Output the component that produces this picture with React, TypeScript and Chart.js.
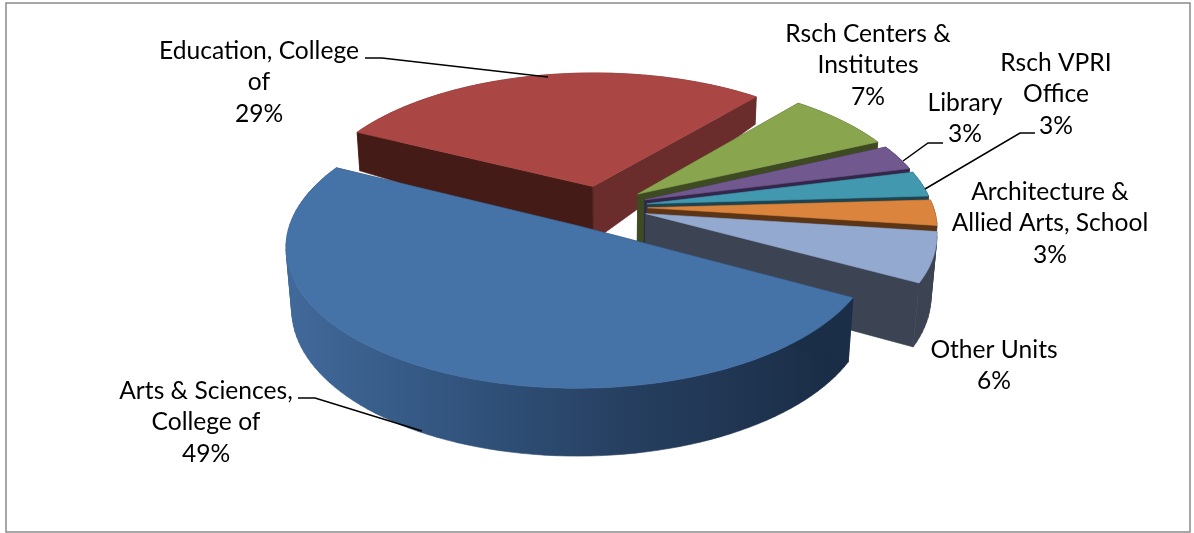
import React, { useEffect, useRef } from "react";
import { Chart, registerables } from "chart.js";

Chart.register(...registerables);

const categories = [
  "Arts & Sciences, College of",
  "Education, College of",
  "Rsch Centers & Institutes",
  "Library",
  "Rsch VPRI Office",
  "Architecture & Allied Arts, School",
  "Other Units",
];
const shares = [49.45, 28.7, 7, 3, 3, 3, 5.85];
const topColors = ["#4572A7", "#AA4643", "#89A54E", "#71588F", "#4198AF", "#DB843D", "#93A9CF"];
const startWallColors = ["#1b2e47", "#451b18", "#3d4a22", "#33264a", "#1d4450", "#5c3517", "#3c4353"];
const endWallColors = ["#1b2e47", "#6b2c2c", "#3d4a22", "#33264a", "#1d4450", "#5c3517", "#3c4353"];
const labelLines = [
  ["Arts & Sciences,", "College of"],
  ["Education, College", "of"],
  ["Rsch Centers &", "Institutes"],
  ["Library"],
  ["Rsch VPRI", "Office"],
  ["Architecture &", "Allied Arts, School"],
  ["Other Units"],
];
// label anchor: centre x, middle y of first line
const labelAnchors = [
  [206, 391],
  [259, 51],
  [868, 34],
  [965, 103],
  [1056, 63],
  [1050, 192],
  [994, 350],
];
const leaders: number[][][] = [
  [[298, 398], [315, 398], [422, 431]],
  [[365, 58], [382, 58], [548, 77]],
  [],
  [[943, 143], [928, 143], [903, 161]],
  [[1035, 133], [1020, 133], [925, 189]],
  [],
  [],
];

const CAMERA = { cx: 602, cy: 207, F: 285.6, elev: (28 * Math.PI) / 180, dist: 6.5 };
const EXPLODE = 0.16;
const DEPTH = 0.245;
const ROTATION = 118.5;

function project(X: number, Y: number, h: number) {
  const { cx, cy, F, elev, dist } = CAMERA;
  const depth = h * (Y < 0 ? Math.max(0.3, 1 + 0.55 * Y) : 1);
  const W = 1 - (Y * Math.cos(elev) - depth * Math.sin(elev)) / dist;
  return [cx + (F * X) / W, cy + (F * (Y * Math.sin(elev) + depth * Math.cos(elev))) / W];
}

function tracePoly(ctx: CanvasRenderingContext2D, pts: number[][]) {
  pts.forEach((p, i) => (i ? ctx.lineTo(p[0], p[1]) : ctx.moveTo(p[0], p[1])));
  ctx.closePath();
}

function paint(ctx: CanvasRenderingContext2D, fill: string | CanvasGradient) {
  ctx.fillStyle = fill;
  ctx.strokeStyle = fill;
  ctx.lineWidth = 0.6;
  ctx.fill();
  ctx.stroke();
}

function fillPoly(ctx: CanvasRenderingContext2D, pts: number[][], fill: string | CanvasGradient) {
  ctx.beginPath();
  tracePoly(ctx, pts);
  paint(ctx, fill);
}

function signedArea(pts: number[][]) {
  let s = 0;
  pts.forEach((p, i) => {
    const q = pts[(i + 1) % pts.length];
    s += p[0] * q[1] - q[0] * p[1];
  });
  return s;
}

const pie3d = {
  id: "pie3d",
  beforeDatasetsDraw(chart: any) {
    const ctx: CanvasRenderingContext2D = chart.ctx;
    const arcs = chart.getDatasetMeta(0).data;
    const order = [1, 2, 3, 4, 5, 6, 0];
    for (const i of order) {
      const { startAngle: a0, endAngle: a1 } = arcs[i];
      const mid = (a0 + a1) / 2;
      const ox = EXPLODE * Math.cos(mid);
      const oy = EXPLODE * Math.sin(mid);
      const n = Math.max(8, Math.ceil(((a1 - a0) * 180) / Math.PI / 2));
      const rim: number[][] = [];
      for (let k = 0; k <= n; k++) {
        const a = a0 + ((a1 - a0) * k) / n;
        rim.push([ox + Math.cos(a), oy + Math.sin(a)]);
      }
      const top = rim.map((p) => project(p[0], p[1], 0));
      const bottom = rim.map((p) => project(p[0], p[1], DEPTH));
      const apexTop = project(ox, oy, 0);
      const apexBottom = project(ox, oy, DEPTH);
      // outer wall: all strips in one path, same winding, so no seams and no hole at the fold
      let wall: string | CanvasGradient = endWallColors[i];
      if (i === 0) {
        const g = ctx.createLinearGradient(287, 0, 855, 0);
        g.addColorStop(0, "#41699a");
        g.addColorStop(0.3, "#32547e");
        g.addColorStop(0.6, "#263f60");
        g.addColorStop(1, "#192b43");
        wall = g;
      }
      ctx.beginPath();
      for (let k = 0; k < n; k++) {
        const quad = [top[k], top[k + 1], bottom[k + 1], bottom[k]];
        tracePoly(ctx, signedArea(quad) < 0 ? quad.slice().reverse() : quad);
      }
      paint(ctx, wall);
      // radial walls
      fillPoly(ctx, [apexTop, top[n], bottom[n], apexBottom], endWallColors[i]);
      fillPoly(ctx, [apexTop, top[0], bottom[0], apexBottom], startWallColors[i]);
      // top face
      fillPoly(ctx, [apexTop, ...top], topColors[i]);
    }
    // leaders
    ctx.strokeStyle = "#000";
    ctx.lineWidth = 1.5;
    leaders.forEach((pts) => {
      if (!pts.length) return;
      ctx.beginPath();
      pts.forEach((p, i) => (i ? ctx.lineTo(p[0], p[1]) : ctx.moveTo(p[0], p[1])));
      ctx.stroke();
    });
    // labels
    ctx.fillStyle = "#000";
    ctx.font = "24.6px Lato";
    ctx.textAlign = "center";
    ctx.textBaseline = "middle";
    const total = shares.reduce((a, b) => a + b, 0);
    labelLines.forEach((lines, i) => {
      const all = [...lines, `${Math.round((shares[i] / total) * 100)}%`];
      all.forEach((t, j) => ctx.fillText(t, labelAnchors[i][0], labelAnchors[i][1] + j * 31.5));
    });
    // frame
    ctx.strokeStyle = "#8a8a8a";
    ctx.lineWidth = 1.5;
    ctx.strokeRect(6, 3, 1184, 529);
    return false;
  },
};

export default function App() {
  const ref = useRef<HTMLCanvasElement>(null);
  useEffect(() => {
    const chart = new Chart(ref.current!, {
      type: "pie",
      data: { labels: categories, datasets: [{ data: shares, backgroundColor: topColors, borderWidth: 0 }] },
      options: {
        responsive: false,
        animation: false,
        devicePixelRatio: 1,
        rotation: ROTATION,
        plugins: { legend: { display: false }, tooltip: { enabled: false } },
      },
      plugins: [pie3d],
    } as any);
    return () => chart.destroy();
  }, []);
  return (
    <canvas
      ref={ref}
      width={1194}
      height={533}
      style={{ position: "absolute", left: 0, top: 0, display: "block", background: "#fff" }}
    />
  );
}
